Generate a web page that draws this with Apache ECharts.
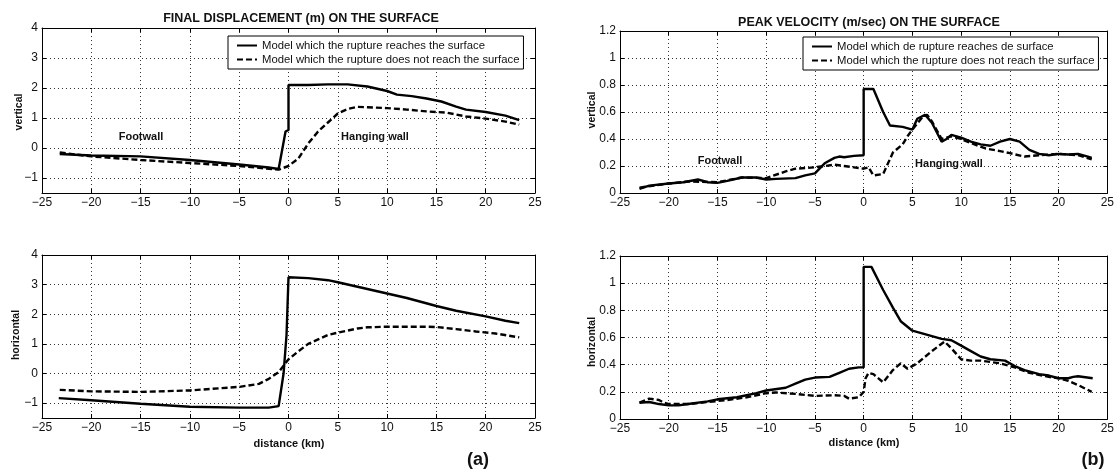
<!DOCTYPE html>
<html><head><meta charset="utf-8">
<script src="https://cdn.jsdelivr.net/npm/echarts@6/dist/echarts.min.js"></script>
<style>html,body{margin:0;padding:0;background:#fff}#c{width:1117px;height:471px}</style>
</head><body><div id="c"></div>
<script>
// ---------- tick labels ----------
const distTicks = [-25,-20,-15,-10,-5,0,5,10,15,20,25];
const dispTicks = [-1,0,1,2,3,4];
const velTicks = [0,0.2,0.4,0.6,0.8,1,1.2];

// ---------- labels ----------
const nameReach = 'Model which the rupture reaches the surface';
const nameReachB = 'Model which de rupture reaches de surface';
const nameNoReach = 'Model which the rupture does not reach the surface';

// ---------- (a) final displacement, vertical ----------
const dispVertReach = [[-23.2,-0.2],[-20,-0.25],[-15,-0.28],[-10,-0.4],[-5,-0.55],[-2,-0.65],[-1,-0.7],[-0.3,0.55],[0,0.6],[0,2.1],[2,2.1],[4,2.12],[6,2.12],[8,2.05],[10,1.9],[11,1.78],[12.5,1.73],[14,1.65],[15.5,1.55],[17,1.38],[18,1.28],[20,1.2],[22,1.08],[23.4,0.93]];
const dispVertNoReach = [[-23.2,-0.15],[-20,-0.28],[-15,-0.4],[-10,-0.5],[-5,-0.6],[-1,-0.72],[0,-0.6],[1,-0.35],[2,0.15],[3,0.55],[4,0.85],[5,1.15],[6,1.3],[7,1.37],[8,1.36],[10,1.33],[12,1.28],[14,1.22],[16,1.18],[18,1.05],[20,0.98],[22,0.88],[23.4,0.78]];

// ---------- (a) final displacement, horizontal ----------
const dispHorReach = [[-23.3,-0.83],[-20,-0.9],[-15,-1.02],[-10,-1.12],[-5,-1.15],[-2,-1.15],[-1,-1.1],[-0.5,0],[-0.2,1.3],[0,3.25],[2,3.22],[4,3.15],[5,3.08],[7,2.93],[10,2.7],[12,2.55],[15,2.28],[17,2.12],[20,1.93],[22,1.78],[23.4,1.7]];
const dispHorNoReach = [[-23.2,-0.55],[-20,-0.6],[-15,-0.62],[-10,-0.57],[-5,-0.45],[-3,-0.35],[-2,-0.18],[-1,0.05],[0,0.48],[1,0.75],[2,1.0],[3,1.15],[4,1.3],[5,1.38],[7,1.52],[8,1.56],[10,1.58],[12,1.58],[14,1.58],[15,1.57],[17,1.5],[19,1.42],[21,1.35],[23.4,1.22]];

// ---------- (b) peak velocity, vertical ----------
const velVertReach = [[-23,0.03],[-22,0.055],[-20,0.07],[-18.5,0.08],[-17,0.1],[-16,0.08],[-15,0.075],[-14,0.09],[-12.5,0.115],[-11,0.115],[-10,0.1],[-9,0.105],[-7,0.11],[-6,0.13],[-5,0.145],[-4,0.22],[-3,0.26],[-2.5,0.27],[-2,0.265],[-1,0.275],[0,0.28],[0,0.77],[1,0.77],[2,0.6],[2.7,0.5],[4,0.49],[5,0.47],[5.5,0.55],[6.3,0.58],[7,0.52],[8,0.38],[8.5,0.4],[9,0.43],[10,0.41],[11,0.38],[12,0.36],[13,0.35],[14,0.38],[15,0.4],[16,0.38],[17,0.32],[18,0.29],[19,0.28],[20,0.29],[21,0.285],[22,0.29],[23,0.27],[23.4,0.26]];
const velVertNoReach = [[-23,0.04],[-20,0.07],[-18,0.085],[-15,0.08],[-12.5,0.115],[-10,0.11],[-8,0.16],[-7,0.18],[-5,0.19],[-4,0.2],[-3,0.21],[-2,0.2],[-1,0.19],[0,0.18],[0.5,0.19],[1,0.13],[2,0.14],[2.5,0.22],[3,0.3],[4,0.36],[4.5,0.42],[5,0.47],[6,0.56],[6.5,0.58],[7,0.53],[8,0.4],[9,0.42],[10,0.4],[11,0.37],[12.5,0.33],[14,0.31],[15,0.295],[16.5,0.27],[18,0.28],[19,0.285],[20,0.29],[21,0.285],[22,0.28],[23.4,0.25]];

// ---------- (b) peak velocity, horizontal ----------
const velHorReach = [[-23,0.12],[-22,0.125],[-21,0.11],[-20,0.1],[-19,0.1],[-18,0.11],[-16,0.13],[-15,0.145],[-13,0.16],[-11,0.19],[-10,0.21],[-8,0.23],[-7,0.26],[-6,0.29],[-5,0.305],[-3.5,0.31],[-2.5,0.34],[-1.5,0.37],[-0.5,0.38],[0,0.38],[0,1.12],[0.8,1.12],[2,0.95],[3,0.82],[3.8,0.72],[5,0.65],[6,0.63],[7,0.61],[8,0.59],[9,0.58],[10,0.54],[11,0.5],[12,0.46],[13,0.44],[14.5,0.43],[15.5,0.39],[16.5,0.36],[18,0.33],[19,0.32],[20,0.3],[21,0.3],[21.5,0.31],[22,0.315],[23.5,0.3]];
const velHorNoReach = [[-23,0.12],[-22,0.15],[-21,0.14],[-20.5,0.12],[-20,0.11],[-18,0.11],[-16,0.125],[-14,0.14],[-12,0.16],[-10,0.19],[-9,0.195],[-7,0.185],[-5,0.17],[-3,0.175],[-2,0.17],[-1.5,0.15],[-0.5,0.16],[0,0.2],[0.2,0.3],[0.5,0.34],[1,0.33],[2,0.27],[3,0.36],[3.8,0.41],[4.5,0.37],[5.5,0.41],[7,0.5],[8.3,0.57],[9,0.52],[10,0.44],[11,0.43],[12,0.43],[14,0.41],[15.5,0.38],[17,0.34],[19,0.31],[20,0.3],[21,0.28],[22,0.25],[23.4,0.2]];

const FONT = '"Liberation Sans", Arial, Helvetica, sans-serif';
const minusFmt = v => String(v).replace('-', '\u2212');
const grids = [
  {left:42, top:28, width:493, height:165},
  {left:42, top:255, width:493, height:163},
  {left:620, top:31, width:491, height:162},
  {left:620, top:256, width:491, height:163}
];
const gridLine = {show:true, lineStyle:{color:'#333', type:[1,3], width:1}};
const xAxes = [], yAxes = [];
grids.forEach((g,i)=>{
  xAxes.push({type:'value', gridIndex:i, min:-25, max:25, interval:5,
    axisLine:{show:true, onZero:false, lineStyle:{color:'#000', width:1}},
    axisTick:{show:true, inside:true, length:4, lineStyle:{color:'#000'}},
    axisLabel:{color:'#111', fontSize:12, fontFamily:FONT, margin:4,
      customValues: distTicks, formatter: minusFmt},
    splitLine:gridLine});
  xAxes.push({type:'value', gridIndex:i, position:'top', min:-25, max:25, interval:5,
    axisLine:{show:true, onZero:false, lineStyle:{color:'#000', width:1}},
    axisTick:{show:true, inside:true, length:4, lineStyle:{color:'#000'}},
    axisLabel:{show:false}, splitLine:{show:false}});
  const isDisp = i < 2;
  const yBase = isDisp ? {min:-1.5, max:4} : {min:0, max:1.2, interval:0.2};
  const ticks = isDisp ? dispTicks : velTicks;
  yAxes.push(Object.assign({type:'value', gridIndex:i,
    axisLine:{show:true, onZero:false, lineStyle:{color:'#000', width:1}},
    axisTick:{show:true, inside:true, length:4, lineStyle:{color:'#000'}, customValues: ticks},
    axisLabel:{color:'#111', fontSize:12, fontFamily:FONT, margin:4, customValues: ticks, formatter: minusFmt},
    splitLine:gridLine}, yBase));
  yAxes.push(Object.assign({type:'value', gridIndex:i, position:'right',
    axisLine:{show:true, onZero:false, lineStyle:{color:'#000', width:1}},
    axisTick:{show:true, inside:true, length:4, lineStyle:{color:'#000'}, customValues: ticks},
    axisLabel:{show:false}, splitLine:{show:false}}, yBase));
});

function mk(name, data, idx, dashed){
  return {type:'line', name:name, data:data, xAxisIndex:idx*2, yAxisIndex:idx*2,
    showSymbol:false, symbol:'none', animation:false, z:5,
    lineStyle:{color:'#000', width:2.4, type: dashed ? [6,3] : 'solid'},
    itemStyle:{color:'#000'}};
}
const series = [
  mk(nameReach, dispVertReach, 0, false), mk(nameNoReach, dispVertNoReach, 0, true),
  mk(nameReach, dispHorReach, 1, false), mk(nameNoReach, dispHorNoReach, 1, true),
  mk(nameReachB, velVertReach, 2, false), mk(nameNoReach+' ', velVertNoReach, 2, true),
  mk(nameReachB, velHorReach, 3, false), mk(nameNoReach+' ', velHorNoReach, 3, true)
];

const legendBase = {orient:'vertical', itemWidth:20, itemHeight:8, itemGap:3, itemTextGap:7,
  padding:[4,4,4,8], borderColor:'#000', borderWidth:1, backgroundColor:'#fff',
  itemStyle:{color:'rgba(0,0,0,0)', borderWidth:0, opacity:0},
  textStyle:{fontSize:11.3, fontFamily:FONT, color:'#111'}, selectedMode:false};

function txt(x,y,t,opt){
  return {type:'text', x:x, y:y, z:20, style:Object.assign({text:t, fontFamily:FONT, fontSize:11, fontWeight:'bold', fill:'#111', textAlign:'center', textVerticalAlign:'middle'}, opt||{})};
}
function rtxt(x,y,t){
  return {type:'text', x:x, y:y, rotation:Math.PI/2, z:20,
    style:{text:t, fontFamily:FONT, fontSize:10.5, fontWeight:'bold', fill:'#111', textAlign:'center', textVerticalAlign:'middle'}};
}

const option = {
  backgroundColor:'#fff',
  animation:false,
  title:[
    {text:'FINAL DISPLACEMENT (m) ON THE SURFACE', left:296, top:7, textAlign:'center',
      textStyle:{fontSize:12.5, fontWeight:'bold', fontFamily:FONT, color:'#111'}},
    {text:'PEAK VELOCITY (m/sec) ON THE SURFACE', left:864, top:11, textAlign:'center',
      textStyle:{fontSize:12.5, fontWeight:'bold', fontFamily:FONT, color:'#111'}}
  ],
  grid: grids.map(g=>Object.assign({show:false, containLabel:false}, g)),
  xAxis:xAxes, yAxis:yAxes, series:series,
  legend:[
    Object.assign({}, legendBase, {left:228, top:36, data:[nameReach, nameNoReach]}),
    Object.assign({}, legendBase, {left:803, top:37, data:[nameReachB, nameNoReach+' '],
      formatter: n => n.trim()})
  ],
  graphic:[
    txt(141,137,'Footwall'), txt(375,137,'Hanging wall'),
    txt(720,161,'Footwall'), txt(949,164,'Hanging wall'),
    rtxt(19,112,'vertical'), rtxt(16,335,'horizontal'),
    rtxt(592,110,'vertical'), rtxt(592,342,'horizontal'),
    txt(289,444,'distance (km)'), txt(864,443,'distance (km)'),
    txt(478,460,'(a)',{fontSize:18}), txt(1093,460,'(b)',{fontSize:18})
  ]
};
const chart = echarts.init(document.getElementById('c'), null, {renderer:'canvas'});
chart.setOption(option);
</script></body></html>
